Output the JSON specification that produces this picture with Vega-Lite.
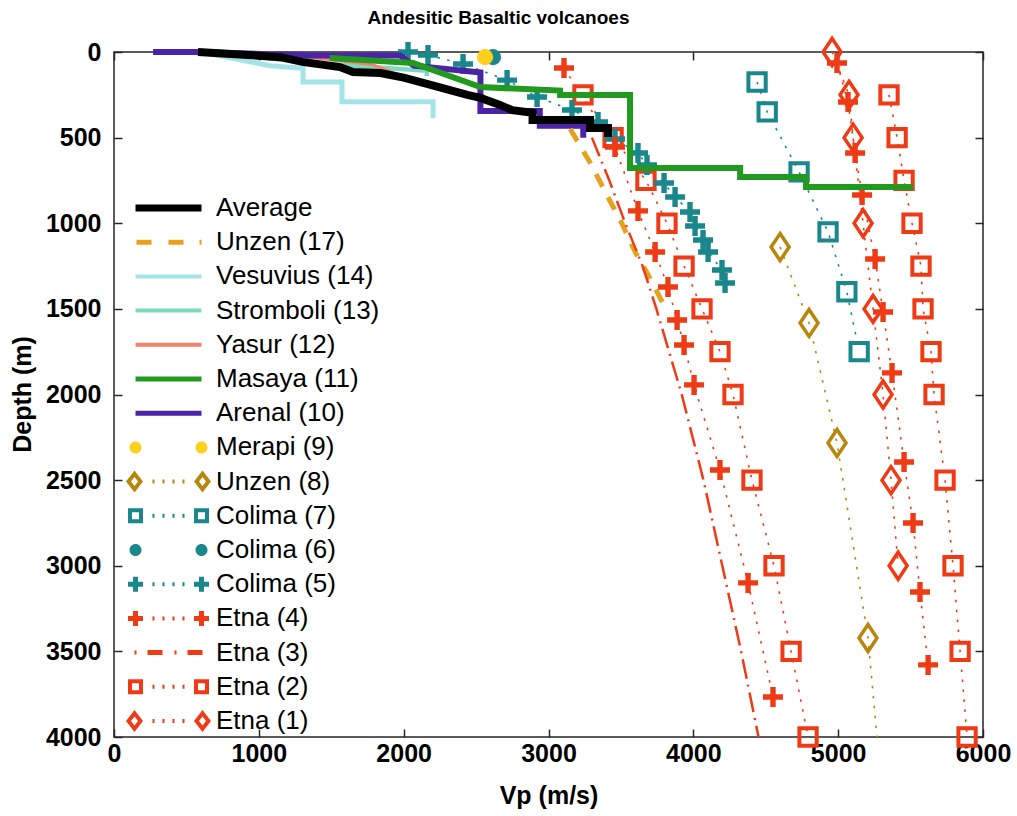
{
  "$schema": "https://vega.github.io/schema/vega-lite/v6.json",
  "width": 869,
  "height": 685,
  "autosize": {"type": "none"},
  "padding": {"left": 114, "top": 52, "right": 34, "bottom": 79},
  "background": "white",
  "title": {"text": "Andesitic Basaltic volcanoes", "fontSize": 19, "fontWeight": "bold", "font": "Liberation Sans", "anchor": "middle", "dx": -50, "offset": 4, "color": "#000000"},
  "config": {
    "font": "Liberation Sans",
    "view": {"stroke": "#262626", "strokeWidth": 1.5}
  },
  "datasets": {
    "steps": [
      {"s": "Average", "vp": 580, "d": 0}, {"s": "Average", "vp": 1150, "d": 30}, {"s": "Average", "vp": 1300, "d": 58}, {"s": "Average", "vp": 1560, "d": 88}, {"s": "Average", "vp": 1650, "d": 117}, {"s": "Average", "vp": 1840, "d": 123}, {"s": "Average", "vp": 2000, "d": 150}, {"s": "Average", "vp": 2180, "d": 190}, {"s": "Average", "vp": 2320, "d": 222}, {"s": "Average", "vp": 2440, "d": 250}, {"s": "Average", "vp": 2530, "d": 268}, {"s": "Average", "vp": 2665, "d": 309}, {"s": "Average", "vp": 2750, "d": 340}, {"s": "Average", "vp": 2890, "d": 355}, {"s": "Average", "vp": 2890, "d": 397}, {"s": "Average", "vp": 3287, "d": 397}, {"s": "Average", "vp": 3287, "d": 444}, {"s": "Average", "vp": 3411, "d": 444}, {"s": "Average", "vp": 3411, "d": 496},
      {"s": "Vesuvius (14)", "vp": 600, "d": 0}, {"s": "Vesuvius (14)", "vp": 1077, "d": 80}, {"s": "Vesuvius (14)", "vp": 1305, "d": 95}, {"s": "Vesuvius (14)", "vp": 1305, "d": 175}, {"s": "Vesuvius (14)", "vp": 1574, "d": 175}, {"s": "Vesuvius (14)", "vp": 1574, "d": 290}, {"s": "Vesuvius (14)", "vp": 2203, "d": 290}, {"s": "Vesuvius (14)", "vp": 2203, "d": 385},
      {"s": "Stromboli (13)", "vp": 580, "d": 0}, {"s": "Stromboli (13)", "vp": 1000, "d": 30}, {"s": "Stromboli (13)", "vp": 1305, "d": 60}, {"s": "Stromboli (13)", "vp": 2160, "d": 110}, {"s": "Stromboli (13)", "vp": 2160, "d": 140},
      {"s": "Yasur (12)", "vp": 600, "d": 0}, {"s": "Yasur (12)", "vp": 1080, "d": 5}, {"s": "Yasur (12)", "vp": 1790, "d": 75}, {"s": "Yasur (12)", "vp": 2000, "d": 145},
      {"s": "Masaya (11)", "vp": 1490, "d": 35}, {"s": "Masaya (11)", "vp": 2065, "d": 64}, {"s": "Masaya (11)", "vp": 2530, "d": 205}, {"s": "Masaya (11)", "vp": 3080, "d": 225}, {"s": "Masaya (11)", "vp": 3080, "d": 251}, {"s": "Masaya (11)", "vp": 3563, "d": 251}, {"s": "Masaya (11)", "vp": 3563, "d": 677}, {"s": "Masaya (11)", "vp": 4323, "d": 677}, {"s": "Masaya (11)", "vp": 4323, "d": 730}, {"s": "Masaya (11)", "vp": 4778, "d": 730}, {"s": "Masaya (11)", "vp": 4778, "d": 788}, {"s": "Masaya (11)", "vp": 5517, "d": 788},
      {"s": "Arenal (10)", "vp": 270, "d": 0}, {"s": "Arenal (10)", "vp": 580, "d": 0}, {"s": "Arenal (10)", "vp": 1330, "d": 20}, {"s": "Arenal (10)", "vp": 1975, "d": 20}, {"s": "Arenal (10)", "vp": 2070, "d": 80}, {"s": "Arenal (10)", "vp": 2530, "d": 120}, {"s": "Arenal (10)", "vp": 2530, "d": 345}, {"s": "Arenal (10)", "vp": 2940, "d": 345}, {"s": "Arenal (10)", "vp": 2940, "d": 430}, {"s": "Arenal (10)", "vp": 3240, "d": 430}, {"s": "Arenal (10)", "vp": 3240, "d": 500},
      {"s": "Unzen (17)", "vp": 3150, "d": 450}, {"s": "Unzen (17)", "vp": 3290, "d": 650}, {"s": "Unzen (17)", "vp": 3400, "d": 830}, {"s": "Unzen (17)", "vp": 3500, "d": 990}, {"s": "Unzen (17)", "vp": 3600, "d": 1170}, {"s": "Unzen (17)", "vp": 3700, "d": 1320}, {"s": "Unzen (17)", "vp": 3810, "d": 1500},
      {"s": "Etna (3)", "vp": 3300, "d": 500}, {"s": "Etna (3)", "vp": 3420, "d": 750}, {"s": "Etna (3)", "vp": 3530, "d": 1000}, {"s": "Etna (3)", "vp": 3650, "d": 1250}, {"s": "Etna (3)", "vp": 3745, "d": 1500}, {"s": "Etna (3)", "vp": 3920, "d": 2000}, {"s": "Etna (3)", "vp": 4070, "d": 2500}, {"s": "Etna (3)", "vp": 4200, "d": 3000}, {"s": "Etna (3)", "vp": 4330, "d": 3500}, {"s": "Etna (3)", "vp": 4450, "d": 4000}
    ],
    "pts": [
      {"s": "Colima (6)", "p": "a", "k": "obs", "vp": 2617, "d": 30},
      {"s": "Merapi (9)", "p": "a", "k": "obs", "vp": 2562, "d": 30},
      {"s": "Unzen (8)", "p": "a", "k": "obs", "vp": 4599, "d": 1139}, {"s": "Unzen (8)", "p": "a", "k": "obs", "vp": 4799, "d": 1582}, {"s": "Unzen (8)", "p": "a", "k": "obs", "vp": 4992, "d": 2283}, {"s": "Unzen (8)", "p": "a", "k": "obs", "vp": 5206, "d": 3422}, {"s": "Unzen (8)", "p": "a", "k": "trend", "vp": 5268, "d": 4000},
      {"s": "Colima (7)", "p": "a", "k": "obs", "vp": 4440, "d": 175}, {"s": "Colima (7)", "p": "a", "k": "obs", "vp": 4510, "d": 350}, {"s": "Colima (7)", "p": "a", "k": "obs", "vp": 4730, "d": 700}, {"s": "Colima (7)", "p": "a", "k": "obs", "vp": 4930, "d": 1050}, {"s": "Colima (7)", "p": "a", "k": "obs", "vp": 5060, "d": 1400}, {"s": "Colima (7)", "p": "a", "k": "obs", "vp": 5145, "d": 1750},
      {"s": "Colima (5)", "p": "a", "k": "obs", "vp": 2030, "d": 0}, {"s": "Colima (5)", "p": "a", "k": "obs", "vp": 2168, "d": 18}, {"s": "Colima (5)", "p": "a", "k": "obs", "vp": 2410, "d": 70}, {"s": "Colima (5)", "p": "a", "k": "obs", "vp": 2714, "d": 164}, {"s": "Colima (5)", "p": "a", "k": "obs", "vp": 2921, "d": 263}, {"s": "Colima (5)", "p": "a", "k": "obs", "vp": 3162, "d": 339}, {"s": "Colima (5)", "p": "a", "k": "obs", "vp": 3342, "d": 409}, {"s": "Colima (5)", "p": "a", "k": "obs", "vp": 3459, "d": 508}, {"s": "Colima (5)", "p": "a", "k": "obs", "vp": 3618, "d": 590}, {"s": "Colima (5)", "p": "a", "k": "obs", "vp": 3680, "d": 660}, {"s": "Colima (5)", "p": "a", "k": "obs", "vp": 3798, "d": 765}, {"s": "Colima (5)", "p": "a", "k": "obs", "vp": 3874, "d": 847}, {"s": "Colima (5)", "p": "a", "k": "obs", "vp": 3977, "d": 934}, {"s": "Colima (5)", "p": "a", "k": "obs", "vp": 4012, "d": 1016}, {"s": "Colima (5)", "p": "a", "k": "obs", "vp": 4067, "d": 1098}, {"s": "Colima (5)", "p": "a", "k": "obs", "vp": 4102, "d": 1168}, {"s": "Colima (5)", "p": "a", "k": "obs", "vp": 4198, "d": 1273}, {"s": "Colima (5)", "p": "a", "k": "obs", "vp": 4219, "d": 1349},
      {"s": "Etna (4)", "p": "a", "k": "obs", "vp": 3107, "d": 93}, {"s": "Etna (4)", "p": "a", "k": "obs", "vp": 3459, "d": 555}, {"s": "Etna (4)", "p": "a", "k": "obs", "vp": 3618, "d": 928}, {"s": "Etna (4)", "p": "a", "k": "obs", "vp": 3736, "d": 1168}, {"s": "Etna (4)", "p": "a", "k": "obs", "vp": 3825, "d": 1372}, {"s": "Etna (4)", "p": "a", "k": "obs", "vp": 3888, "d": 1565}, {"s": "Etna (4)", "p": "a", "k": "obs", "vp": 3936, "d": 1711}, {"s": "Etna (4)", "p": "a", "k": "obs", "vp": 4005, "d": 1944}, {"s": "Etna (4)", "p": "a", "k": "obs", "vp": 4184, "d": 2441}, {"s": "Etna (4)", "p": "a", "k": "obs", "vp": 4378, "d": 3100}, {"s": "Etna (4)", "p": "a", "k": "obs", "vp": 4550, "d": 3766},
      {"s": "Etna (4)", "p": "b", "k": "obs", "vp": 4992, "d": 64}, {"s": "Etna (4)", "p": "b", "k": "obs", "vp": 5068, "d": 292}, {"s": "Etna (4)", "p": "b", "k": "obs", "vp": 5117, "d": 590}, {"s": "Etna (4)", "p": "b", "k": "obs", "vp": 5165, "d": 835}, {"s": "Etna (4)", "p": "b", "k": "obs", "vp": 5255, "d": 1209}, {"s": "Etna (4)", "p": "b", "k": "obs", "vp": 5310, "d": 1518}, {"s": "Etna (4)", "p": "b", "k": "obs", "vp": 5372, "d": 1874}, {"s": "Etna (4)", "p": "b", "k": "obs", "vp": 5455, "d": 2394}, {"s": "Etna (4)", "p": "b", "k": "obs", "vp": 5517, "d": 2750}, {"s": "Etna (4)", "p": "b", "k": "obs", "vp": 5565, "d": 3153}, {"s": "Etna (4)", "p": "b", "k": "obs", "vp": 5621, "d": 3579},
      {"s": "Etna (2)", "p": "a", "k": "obs", "vp": 3238, "d": 250}, {"s": "Etna (2)", "p": "a", "k": "obs", "vp": 3446, "d": 500}, {"s": "Etna (2)", "p": "a", "k": "obs", "vp": 3673, "d": 750}, {"s": "Etna (2)", "p": "a", "k": "obs", "vp": 3818, "d": 1000}, {"s": "Etna (2)", "p": "a", "k": "obs", "vp": 3936, "d": 1250}, {"s": "Etna (2)", "p": "a", "k": "obs", "vp": 4060, "d": 1500}, {"s": "Etna (2)", "p": "a", "k": "obs", "vp": 4184, "d": 1750}, {"s": "Etna (2)", "p": "a", "k": "obs", "vp": 4274, "d": 2000}, {"s": "Etna (2)", "p": "a", "k": "obs", "vp": 4405, "d": 2500}, {"s": "Etna (2)", "p": "a", "k": "obs", "vp": 4557, "d": 3000}, {"s": "Etna (2)", "p": "a", "k": "obs", "vp": 4675, "d": 3500}, {"s": "Etna (2)", "p": "a", "k": "obs", "vp": 4792, "d": 4000},
      {"s": "Etna (2)", "p": "b", "k": "obs", "vp": 5351, "d": 250}, {"s": "Etna (2)", "p": "b", "k": "obs", "vp": 5407, "d": 500}, {"s": "Etna (2)", "p": "b", "k": "obs", "vp": 5455, "d": 750}, {"s": "Etna (2)", "p": "b", "k": "obs", "vp": 5510, "d": 1000}, {"s": "Etna (2)", "p": "b", "k": "obs", "vp": 5572, "d": 1250}, {"s": "Etna (2)", "p": "b", "k": "obs", "vp": 5586, "d": 1500}, {"s": "Etna (2)", "p": "b", "k": "obs", "vp": 5641, "d": 1750}, {"s": "Etna (2)", "p": "b", "k": "obs", "vp": 5662, "d": 2000}, {"s": "Etna (2)", "p": "b", "k": "obs", "vp": 5738, "d": 2500}, {"s": "Etna (2)", "p": "b", "k": "obs", "vp": 5793, "d": 3000}, {"s": "Etna (2)", "p": "b", "k": "obs", "vp": 5842, "d": 3500}, {"s": "Etna (2)", "p": "b", "k": "obs", "vp": 5890, "d": 4000},
      {"s": "Etna (1)", "p": "a", "k": "obs", "vp": 4958, "d": 0}, {"s": "Etna (1)", "p": "a", "k": "obs", "vp": 5075, "d": 250}, {"s": "Etna (1)", "p": "a", "k": "obs", "vp": 5103, "d": 500}, {"s": "Etna (1)", "p": "a", "k": "obs", "vp": 5172, "d": 1000}, {"s": "Etna (1)", "p": "a", "k": "obs", "vp": 5241, "d": 1500}, {"s": "Etna (1)", "p": "a", "k": "obs", "vp": 5310, "d": 2000}, {"s": "Etna (1)", "p": "a", "k": "obs", "vp": 5365, "d": 2500}, {"s": "Etna (1)", "p": "a", "k": "obs", "vp": 5414, "d": 3000}
    ]
  },
  "resolve": {"axis": {"x": "independent", "y": "independent"}},
  "layer": [
    {
      "encoding": {
        "x": {"field": "vp", "type": "quantitative", "scale": {"domain": [0, 6000], "nice": false, "zero": false},
          "axis": {"values": [0, 1000, 2000, 3000, 4000, 5000, 6000], "format": "d", "grid": false, "domain": false, "labelFlush": false, "tickSize": -8, "tickColor": "#262626", "tickWidth": 1.5, "labelFontSize": 25, "labelFontWeight": "bold", "labelColor": "#000000", "labelPadding": 12, "title": "Vp (m/s)", "titleFontSize": 25, "titleFontWeight": "bold", "titleColor": "#000000", "titleY": 58, "titleBaseline": "middle"}},
        "y": {"field": "d", "type": "quantitative", "scale": {"domain": [0, 4000], "reverse": true, "nice": false, "zero": false},
          "axis": {"values": [0, 500, 1000, 1500, 2000, 2500, 3000, 3500, 4000], "format": "d", "grid": false, "domain": false, "labelFlush": false, "tickSize": -8, "tickColor": "#262626", "tickWidth": 1.5, "labelFontSize": 25, "labelFontWeight": "bold", "labelColor": "#000000", "labelPadding": 21, "title": "Depth (m)", "titleFontSize": 25, "titleFontWeight": "bold", "titleColor": "#000000", "titleX": -92, "titleY": 342, "titleBaseline": "middle"}},
        "color": {"field": "s", "type": "nominal",
          "scale": {"domain": ["Average", "Unzen (17)", "Vesuvius (14)", "Stromboli (13)", "Yasur (12)", "Masaya (11)", "Arenal (10)", "Merapi (9)", "Unzen (8)", "Colima (7)", "Colima (6)", "Colima (5)", "Etna (4)", "Etna (3)", "Etna (2)", "Etna (1)"],
            "range": ["#000000", "#e6a21c", "#a3e4e6", "#7fd9c0", "#f5806c", "#22991f", "#4a23a6", "#fcd01c", "#b8860b", "#19878c", "#19878c", "#19878c", "#ee3b15", "#ee3b15", "#ee3b15", "#ee3b15"]}}
      },
      "layer": [
        {"data": {"name": "pts"}, "mark": {"type": "line", "strokeWidth": 1.6, "strokeDash": [2.5, 7.5]}, "encoding": {"detail": {"field": "p"}, "order": {"value": null}}},
        {"data": {"name": "pts"}, "transform": [{"filter": {"field": "s", "oneOf": ["Etna (2)", "Colima (7)"]}}, {"filter": "datum.k == 'obs'"}],
          "mark": {"type": "point", "shape": "square", "filled": false, "strokeWidth": 4, "size": 300, "opacity": 1}},
        {"data": {"name": "pts"}, "transform": [{"filter": {"field": "s", "oneOf": ["Etna (1)", "Unzen (8)"]}}, {"filter": "datum.k == 'obs'"}],
          "mark": {"type": "point", "shape": "M0,-1.5L1,0L0,1.5L-1,0Z", "filled": false, "strokeWidth": 3.5, "size": 324, "opacity": 1}},
        {"data": {"name": "pts"}, "transform": [{"filter": {"field": "s", "oneOf": ["Etna (4)", "Colima (5)"]}}, {"filter": "datum.k == 'obs'"}],
          "mark": {"type": "point", "shape": "M-1,-0.27H-0.27V-1H0.27V-0.27H1V0.27H0.27V1H-0.27V0.27H-1Z", "filled": true, "strokeWidth": 0, "size": 400, "opacity": 1}},
        {"data": {"name": "pts"}, "transform": [{"filter": {"field": "s", "oneOf": ["Merapi (9)", "Colima (6)"]}}],
          "mark": {"type": "circle", "size": 260, "opacity": 1}},
        {"data": {"name": "steps"}, "transform": [{"filter": "datum.s == 'Vesuvius (14)'"}], "mark": {"type": "line", "strokeWidth": 5}, "encoding": {"order": {"value": null}}},
        {"data": {"name": "steps"}, "transform": [{"filter": "datum.s == 'Stromboli (13)'"}], "mark": {"type": "line", "strokeWidth": 4.5}, "encoding": {"order": {"value": null}}},
        {"data": {"name": "steps"}, "transform": [{"filter": "datum.s == 'Yasur (12)'"}], "mark": {"type": "line", "strokeWidth": 3}, "encoding": {"order": {"value": null}}},
        {"data": {"name": "steps"}, "transform": [{"filter": "datum.s == 'Arenal (10)'"}], "mark": {"type": "line", "strokeWidth": 6}, "encoding": {"order": {"value": null}}},
        {"data": {"name": "steps"}, "transform": [{"filter": "datum.s == 'Masaya (11)'"}], "mark": {"type": "line", "strokeWidth": 6}, "encoding": {"order": {"value": null}}},
        {"data": {"name": "steps"}, "transform": [{"filter": "datum.s == 'Unzen (17)'"}], "mark": {"type": "line", "strokeWidth": 5, "strokeDash": [14, 12]}, "encoding": {"order": {"value": null}}},
        {"data": {"name": "steps"}, "transform": [{"filter": "datum.s == 'Etna (3)'"}], "mark": {"type": "line", "strokeWidth": 2.5, "strokeDash": [20, 6, 2, 6]}, "encoding": {"order": {"value": null}}},
        {"data": {"name": "steps"}, "transform": [{"filter": "datum.s == 'Average'"}], "mark": {"type": "line", "strokeWidth": 8}, "encoding": {"order": {"value": null}}}
      ]
    },
    {
      "data": {"name": "pts"},
      "mark": {"type": "point", "filled": true, "opacity": 0, "size": 4, "strokeWidth": 0},
      "encoding": {
        "x": {"field": "vp", "type": "quantitative", "scale": {"domain": [0, 6000], "nice": false, "zero": false},
          "axis": {"orient": "top", "values": [0, 1000, 2000, 3000, 4000, 5000, 6000], "labels": false, "title": null, "grid": false, "domain": false, "tickSize": -8, "tickColor": "#262626", "tickWidth": 1.5}},
        "y": {"field": "d", "type": "quantitative", "scale": {"domain": [0, 4000], "reverse": true, "nice": false, "zero": false},
          "axis": {"orient": "right", "values": [0, 500, 1000, 1500, 2000, 2500, 3000, 3500, 4000], "labels": false, "title": null, "grid": false, "domain": false, "tickSize": -8, "tickColor": "#262626", "tickWidth": 1.5}},
        "color": {"field": "s", "type": "nominal",
          "scale": {"domain": ["Average", "Unzen (17)", "Vesuvius (14)", "Stromboli (13)", "Yasur (12)", "Masaya (11)", "Arenal (10)", "Merapi (9)", "Unzen (8)", "Colima (7)", "Colima (6)", "Colima (5)", "Etna (4)", "Etna (3)", "Etna (2)", "Etna (1)"],
            "range": ["#000000", "#e6a21c", "#a3e4e6", "#7fd9c0", "#f5806c", "#22991f", "#4a23a6", "#fcd01c", "#b8860b", "#19878c", "#19878c", "#19878c", "#ee3b15", "#ee3b15", "#ee3b15", "#ee3b15"]},
          "legend": {"orient": "none", "legendX": 41.5, "legendY": 143, "title": null, "padding": 0, "symbolSize": 4, "symbolStrokeWidth": 0, "symbolOpacity": 1, "labelFont": "Liberation Sans", "labelFontSize": 26, "labelColor": "#000000", "labelOffset": 34.5, "labelLimit": 400, "rowPadding": 8.2,
            "encoding": {"symbols": {"update": {"fill": {"scale": "color", "field": "value"}, "strokeWidth": {"value": 0}, "opacity": {"value": 1}, "size": {"value": 4}}}}}},
        "shape": {"field": "s", "type": "nominal",
          "scale": {"domain": ["Average", "Unzen (17)", "Vesuvius (14)", "Stromboli (13)", "Yasur (12)", "Masaya (11)", "Arenal (10)", "Merapi (9)", "Unzen (8)", "Colima (7)", "Colima (6)", "Colima (5)", "Etna (4)", "Etna (3)", "Etna (2)", "Etna (1)"],
            "range": [
              "M-33,-3.5H33V3.5H-33Z",
              "M-32,-2.5H-17V2.5H-32ZM0,-2.5H15V2.5H0ZM31,-2.5H33V2.5H31Z",
              "M-33,-2H33V2H-33Z",
              "M-33,-2H33V2H-33Z",
              "M-33,-2H33V2H-33Z",
              "M-33,-2.5H33V2.5H-33Z",
              "M-33,-2.5H33V2.5H-33Z",
              "M-27,0A6,6,0,1,1,-39,0A6,6,0,1,1,-27,0ZM39,0A6,6,0,1,1,27,0A6,6,0,1,1,39,0Z",
              "M-34,-11L-25.5,0L-34,11L-42.5,0ZM-34,-4.5L-37.5,0L-34,4.5L-30.5,0ZM34,-11L42.5,0L34,11L25.5,0ZM34,-4.5L30.5,0L34,4.5L37.5,0ZM-16,-2H-14V2H-16ZM-6,-2H-4V2H-6ZM4,-2H6V2H4ZM14,-2H16V2H14Z",
              "M-40.5,-7.5H-25.5V7.5H-40.5ZM-36.5,-3.5V3.5H-29.5V-3.5ZM25.5,-7.5H40.5V7.5H25.5ZM29.5,-3.5V3.5H36.5V-3.5ZM-16,-2H-14V2H-16ZM-6,-2H-4V2H-6ZM4,-2H6V2H4ZM14,-2H16V2H14Z",
              "M-27,0A6,6,0,1,1,-39,0A6,6,0,1,1,-27,0ZM39,0A6,6,0,1,1,27,0A6,6,0,1,1,39,0Z",
              "M-40.5,-2.5H-35.5V-7.5H-30.5V-2.5H-25.5V2.5H-30.5V7.5H-35.5V2.5H-40.5ZM25.5,-2.5H30.5V-7.5H35.5V-2.5H40.5V2.5H35.5V7.5H30.5V2.5H25.5ZM-16,-2H-14V2H-16ZM-6,-2H-4V2H-6ZM4,-2H6V2H4ZM14,-2H16V2H14Z",
              "M-40.5,-2.5H-35.5V-7.5H-30.5V-2.5H-25.5V2.5H-30.5V7.5H-35.5V2.5H-40.5ZM25.5,-2.5H30.5V-7.5H35.5V-2.5H40.5V2.5H35.5V7.5H30.5V2.5H25.5ZM-16,-2H-14V2H-16ZM-6,-2H-4V2H-6ZM4,-2H6V2H4ZM14,-2H16V2H14Z",
              "M-34,-2H-32V2H-34ZM-21,-2.5H-6V2.5H-21ZM6,-2H8V2H6ZM19,-2.5H34V2.5H19Z",
              "M-40.5,-7.5H-25.5V7.5H-40.5ZM-36.5,-3.5V3.5H-29.5V-3.5ZM25.5,-7.5H40.5V7.5H25.5ZM29.5,-3.5V3.5H36.5V-3.5ZM-16,-2H-14V2H-16ZM-6,-2H-4V2H-6ZM4,-2H6V2H4ZM14,-2H16V2H14Z",
              "M-34,-11L-25.5,0L-34,11L-42.5,0ZM-34,-4.5L-37.5,0L-34,4.5L-30.5,0ZM34,-11L42.5,0L34,11L25.5,0ZM34,-4.5L30.5,0L34,4.5L37.5,0ZM-16,-2H-14V2H-16ZM-6,-2H-4V2H-6ZM4,-2H6V2H4ZM14,-2H16V2H14Z"
            ]},
          "legend": {"orient": "none", "legendX": 41.5, "legendY": 143, "title": null, "padding": 0, "symbolSize": 4, "symbolStrokeWidth": 0, "symbolOpacity": 1, "labelFont": "Liberation Sans", "labelFontSize": 26, "labelColor": "#000000", "labelOffset": 34.5, "labelLimit": 400, "rowPadding": 8.2,
            "encoding": {"symbols": {"update": {"fill": {"scale": "color", "field": "value"}, "strokeWidth": {"value": 0}, "opacity": {"value": 1}, "size": {"value": 4}}}}}}
      }
    }
  ]
}
